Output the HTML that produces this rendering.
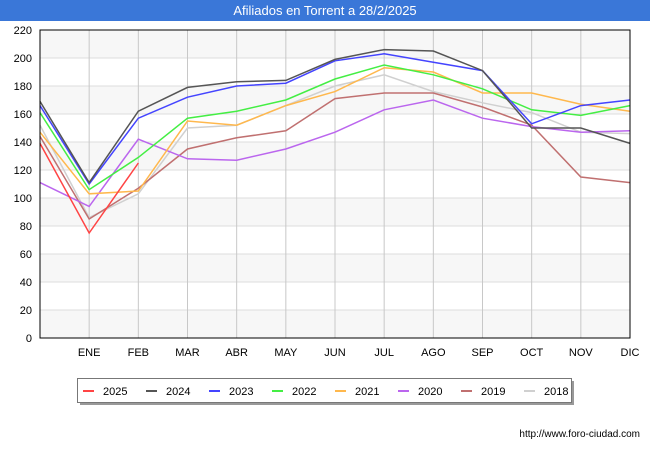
<!DOCTYPE html>
<html><head><meta charset="utf-8"><style>
body{margin:0;background:#fff;font-family:"Liberation Sans","DejaVu Sans",sans-serif}
svg{display:block}
</style></head><body>
<svg width="650" height="450" xmlns="http://www.w3.org/2000/svg">
<rect x="0" y="0" width="650" height="450" fill="#fff"/>
<rect x="0" y="0" width="650" height="21" fill="#3a77d8"/>
<text x="325" y="15" font-size="13" fill="#fff" text-anchor="middle">Afiliados en Torrent a 28/2/2025</text>
<g id="bands"></g>
<g id="grid"></g>
<g id="series"></g>
<rect x="40" y="30" width="590" height="308" fill="none" stroke="#000" stroke-width="1"/>
<g id="legend">
<rect x="80" y="381" width="494" height="24" fill="#999"/>
<rect x="77.5" y="378.5" width="494" height="24" fill="#fff" stroke="#777"/>
</g>
<text x="640" y="437" font-size="10" fill="#000" text-anchor="end">http://www.foro-ciudad.com</text>
</svg>
<script>
const months = ["", "ENE","FEB","MAR","ABR","MAY","JUN","JUL","AGO","SEP","OCT","NOV","DIC"];
const yTicks = [0,20,40,60,80,100,120,140,160,180,200,220];
const seriesNames = ["2025","2024","2023","2022","2021","2020","2019","2018"];
const seriesColors = ["#ff4444","#555555","#4444ff","#44ee44","#ffb84d","#bb66ee","#c07070","#d0d0d0"];
const s2025 = [139,75,125];
const s2024 = [169,111,162,179,183,184,199,206,205,191,150,150,139];
const s2023 = [166,110,157,172,180,182,198,203,197,191,153,166,170];
const s2022 = [161,106,129,157,162,170,185,195,188,178,163,159,166];
const s2021 = [147,103,105,155,152,166,176,193,190,175,175,167,162];
const s2020 = [111,94,142,128,127,135,147,163,170,157,151,147,148];
const s2019 = [144,85,107,135,143,148,171,175,175,165,152,115,111];
const s2018 = [152,86,103,150,152,166,180,188,176,168,161,147,146];
const allSeries = [s2025,s2024,s2023,s2022,s2021,s2020,s2019,s2018];
const NS="http://www.w3.org/2000/svg";
const x0=40,x1=630,yB=338,yT=30,yMax=220;
const xs=i=>x0+i*(x1-x0)/(months.length-1);
const ys=v=>yB-v*(yB-yT)/yMax;
function mk(tag,attrs,parent){const e=document.createElementNS(NS,tag);for(const k in attrs)e.setAttribute(k,attrs[k]);parent.appendChild(e);return e;}
const bands=document.getElementById('bands'),grid=document.getElementById('grid'),ser=document.getElementById('series'),leg=document.getElementById('legend');
for(let i=0;i<yTicks.length-1;i++){
  if((yTicks.length-2-i)%2===0){
    const r=mk('rect',{x:x0,y:ys(yTicks[i+1]),width:x1-x0,height:ys(yTicks[i])-ys(yTicks[i+1]),fill:'#f7f7f7'},bands);
    
    
  }
}
yTicks.forEach(t=>{
  const l=mk('line',{x1:x0,x2:x1,y1:ys(t),y2:ys(t),stroke:'#dddddd'},grid);
  
  
  const tx=mk('text',{x:x0-8,y:ys(t)+4,'font-size':11,'text-anchor':'end',fill:'#000'},grid);
  tx.textContent=t;
  
  
});
months.forEach((m,i)=>{
  if(i>0){
    const l=mk('line',{x1:xs(i),x2:xs(i),y1:yT,y2:yB,stroke:'#c8c8c8'},grid);
    
    
  }
  const tx=mk('text',{x:xs(i),y:356,'font-size':11,'text-anchor':'middle',fill:'#000'},grid);
  tx.textContent=m;
  
  
});
for(let s=allSeries.length-1;s>=0;s--){
  const pts=allSeries[s].map((v,i)=>xs(i)+','+ys(v)).join(' ');
  const p=mk('polyline',{points:pts,fill:'none',stroke:seriesColors[s],'stroke-width':1.5},ser);
  
  
}
seriesNames.forEach((n,i)=>{
  const lx=83+i*63;
  const l=mk('line',{x1:lx,x2:lx+11,y1:391,y2:391,stroke:seriesColors[i],'stroke-width':2},leg);
  
  
  const t=mk('text',{x:lx+20,y:395,'font-size':11,fill:'#000'},leg);
  t.textContent=n;
  
  
});
</script>
</body></html>
